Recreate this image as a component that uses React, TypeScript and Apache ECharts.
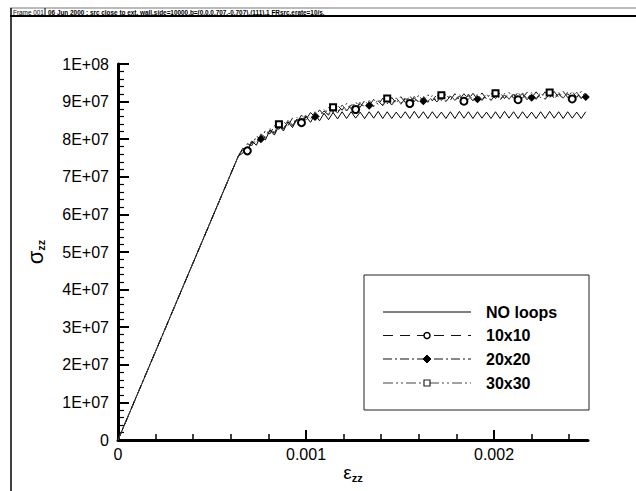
import React, { useEffect, useRef } from 'react';
import * as echarts from 'echarts';

const seriesNames = ['NO loops', '10x10', '20x20', '30x30'];

const headerFrame = 'Frame 001';
const headerText = '06 Jun 2000 : src close to ext. wall,side=10000,b=(0.0,0.707,-0.707),(111),1 FRsrc,erate=10/s,';

// strain values after the elastic knee (shared by all series)
const strain = [
  0.00064, 0.000664, 0.000688, 0.000712, 0.000736, 0.00076, 0.000784, 0.000808, 0.000832, 0.000856,
  0.00088, 0.000904, 0.000928, 0.000952, 0.000976, 0.001, 0.001024, 0.001048, 0.001072, 0.001096,
  0.00112, 0.001144, 0.001168, 0.001192, 0.001216, 0.00124, 0.001264, 0.001288, 0.001312, 0.001336,
  0.00136, 0.001384, 0.001408, 0.001432, 0.001456, 0.00148, 0.001504, 0.001528, 0.001552, 0.001576,
  0.0016, 0.001624, 0.001648, 0.001672, 0.001696, 0.00172, 0.001744, 0.001768, 0.001792, 0.001816,
  0.00184, 0.001864, 0.001888, 0.001912, 0.001936, 0.00196, 0.001984, 0.002008, 0.002032, 0.002056,
  0.00208, 0.002104, 0.002128, 0.002152, 0.002176, 0.0022, 0.002224, 0.002248, 0.002272, 0.002296,
  0.00232, 0.002344, 0.002368, 0.002392, 0.002416, 0.00244, 0.002464, 0.002488,
];

// stress values in units of 1E+06
const noLoops = [
  75.5, 77.6, 76.7, 79.5, 78.4, 81.0, 79.8, 82.4, 81.1, 83.6,
  82.2, 84.6, 83.1, 85.3, 83.9, 86.0, 84.5, 86.5, 84.9, 86.9,
  85.2, 87.1, 85.4, 87.3, 85.5, 87.3, 85.6, 87.2, 85.5, 87.3,
  85.6, 87.4, 85.5, 87.3, 85.5, 87.2, 85.6, 87.3, 85.5, 87.4,
  85.6, 87.3, 85.5, 87.3, 85.6, 87.2, 85.5, 87.3, 85.5, 87.4,
  85.6, 87.3, 85.5, 87.3, 85.6, 87.2, 85.5, 87.3, 85.5, 87.4,
  85.6, 87.3, 85.5, 87.3, 85.6, 87.2, 85.5, 87.3, 85.5, 87.4,
  85.6, 87.3, 85.5, 87.3, 85.6, 87.2, 85.5, 87.3,
];
const loops10 = [
  75.5, 77.2, 76.9, 79.2, 78.8, 81.0, 80.3, 82.4, 81.6, 83.6,
  82.7, 84.6, 83.6, 85.4, 84.4, 86.2, 85.1, 86.9, 85.8, 87.5,
  86.4, 88.1, 87.0, 88.7, 87.5, 89.1, 87.9, 89.5, 88.3, 89.9,
  88.6, 90.2, 88.9, 90.4, 89.1, 90.6, 89.3, 90.8, 89.5, 91.0,
  89.7, 91.1, 89.8, 91.2, 89.9, 91.3, 90.0, 91.4, 90.1, 91.5,
  90.1, 91.6, 90.2, 91.6, 90.3, 91.7, 90.3, 91.8, 90.4, 91.8,
  90.4, 91.9, 90.5, 91.9, 90.5, 92.0, 90.6, 92.0, 90.6, 92.0,
  90.7, 92.1, 90.7, 92.1, 90.7, 92.1, 90.8, 92.2,
];
const loops20 = [
  75.5, 76.3, 78.8, 78.3, 80.8, 80.0, 82.3, 81.4, 83.6, 82.6,
  84.7, 83.6, 85.6, 84.4, 86.4, 85.2, 87.1, 85.9, 87.8, 86.5,
  88.4, 87.1, 89.0, 87.7, 89.5, 88.1, 89.9, 88.5, 90.3, 88.9,
  90.6, 89.2, 90.9, 89.4, 91.1, 89.6, 91.3, 89.8, 91.5, 90.0,
  91.7, 90.1, 91.8, 90.2, 91.9, 90.3, 92.0, 90.4, 92.1, 90.5,
  92.1, 90.6, 92.2, 90.6, 92.3, 90.7, 92.3, 90.8, 92.4, 90.8,
  92.4, 90.9, 92.5, 90.9, 92.5, 91.0, 92.6, 91.0, 92.6, 91.0,
  92.7, 91.1, 92.7, 91.1, 92.7, 91.1, 92.7, 91.2,
];
const loops30 = [
  75.5, 77.6, 77.1, 79.7, 79.0, 81.4, 80.5, 82.8, 81.8, 84.0,
  82.9, 85.0, 83.8, 85.8, 84.6, 86.6, 85.3, 87.3, 86.0, 87.9,
  86.6, 88.5, 87.2, 89.1, 87.7, 89.5, 88.1, 89.9, 88.5, 90.3,
  88.8, 90.6, 89.1, 90.8, 89.3, 91.0, 89.5, 91.2, 89.7, 91.4,
  89.9, 91.5, 90.0, 91.6, 90.1, 91.7, 90.2, 91.8, 90.3, 91.9,
  90.3, 92.0, 90.4, 92.0, 90.5, 92.1, 90.5, 92.2, 90.6, 92.2,
  90.6, 92.3, 90.7, 92.3, 90.7, 92.4, 90.8, 92.4, 90.8, 92.4,
  90.9, 92.5, 90.9, 92.5, 90.9, 92.5, 91.0, 92.6,
];

// indices (into strain) where each loop series shows its marker
const markers10 = [2, 14, 26, 38, 50, 62, 74];
const markers20 = [5, 17, 29, 41, 53, 65, 77];
const markers30 = [9, 21, 33, 45, 57, 69];

const xMajorTicks = [0, 0.001, 0.002];
const xMinorTicks = [0.0002, 0.0004, 0.0006, 0.0008, 0.0012, 0.0014, 0.0016, 0.0018, 0.0022, 0.0024];

const FONT = '"Liberation Sans", Arial, Helvetica, sans-serif';

function buildData(vals: number[], markerIdx: number[] | null, symbol: string) {
  const out: any[] = [{ value: [0, 0], symbol: 'none' }];
  strain.forEach((x, i) => {
    const isMarker = markerIdx ? markerIdx.includes(i) : false;
    out.push({ value: [x, vals[i] * 1e6], symbol: isMarker ? symbol : 'none' });
  });
  return out;
}

function yLabel(v: number) {
  if (v === 0) return '0';
  const exp = Math.floor(Math.log10(v) + 1e-9);
  const m = Math.round(v / Math.pow(10, exp));
  return `${m}E+${String(exp).padStart(2, '0')}`;
}

export default function App() {
  const ref = useRef<HTMLDivElement>(null);

  useEffect(() => {
    if (!ref.current) return;
    const chart = echarts.init(ref.current, null, { renderer: 'svg' });

    const legendTop = 275;
    const legendLeft = 364;
    const rowY = [312, 335.5, 359, 383];
    const lx1 = 383;
    const lx2 = 471;
    const mx = 427;
    const dashes: (number[] | null)[] = [null, [10, 7], [9, 3, 2, 3], [10, 3, 2, 3, 2, 3]];
    const lineColors = ['#000', '#111', '#111', '#444'];

    const legendEls: any[] = [
      {
        type: 'rect',
        shape: { x: legendLeft, y: legendTop, width: 225, height: 135 },
        style: { fill: '#fff', stroke: '#222', lineWidth: 1 },
        z: 10,
      },
    ];
    seriesNames.forEach((name, i) => {
      legendEls.push({
        type: 'line',
        shape: { x1: lx1, y1: rowY[i], x2: lx2, y2: rowY[i] },
        style: { stroke: lineColors[i], lineWidth: 1, lineDash: dashes[i] || undefined },
        z: 11,
      });
      legendEls.push({
        type: 'text',
        x: 486,
        y: rowY[i],
        style: {
          text: name,
          fontFamily: FONT,
          fontSize: 16,
          fontWeight: 'bold',
          fill: '#000',
          verticalAlign: 'middle',
          align: 'left',
        },
        z: 11,
      });
    });
    legendEls.push({
      type: 'circle',
      shape: { cx: mx, cy: rowY[1], r: 3 },
      style: { fill: '#fff', stroke: '#000', lineWidth: 1.5 },
      z: 12,
    });
    legendEls.push({
      type: 'polygon',
      shape: { points: [[mx, rowY[2] - 4], [mx + 4, rowY[2]], [mx, rowY[2] + 4], [mx - 4, rowY[2]]] },
      style: { fill: '#000', stroke: '#000', lineWidth: 1 },
      z: 12,
    });
    legendEls.push({
      type: 'rect',
      shape: { x: mx - 3, y: rowY[3] - 3, width: 6, height: 6 },
      style: { fill: '#fff', stroke: '#222', lineWidth: 1.2 },
      z: 12,
    });

    const headerEls: any[] = [
      { type: 'line', shape: { x1: 10, y1: 8, x2: 636, y2: 8 }, style: { stroke: '#777', lineWidth: 1 } },
      { type: 'line', shape: { x1: 10, y1: 16, x2: 636, y2: 16 }, style: { stroke: '#000', lineWidth: 2 } },
      { type: 'line', shape: { x1: 11, y1: 8, x2: 11, y2: 491 }, style: { stroke: '#000', lineWidth: 1.5 } },
      { type: 'line', shape: { x1: 45, y1: 8, x2: 45, y2: 16 }, style: { stroke: '#000', lineWidth: 1 } },
      {
        type: 'text', x: 13, y: 12,
        style: { text: headerFrame, fontFamily: FONT, fontSize: 6.4, fontWeight: 'normal', fill: '#000', verticalAlign: 'middle' },
      },
      {
        type: 'text', x: 48, y: 12,
        style: { text: headerText, fontFamily: FONT, fontSize: 6.4, fontWeight: 'bold', fill: '#000', verticalAlign: 'middle' },
      },
    ];

    const lineSeries = (name: string, vals: number[], markers: number[] | null, symbol: string, dash: any, color: string, size: number) => ({
      name,
      type: 'line',
      data: buildData(vals, markers, symbol),
      xAxisIndex: 0,
      yAxisIndex: 0,
      symbolSize: size,
      showAllSymbol: true,
      lineStyle: { color, width: 1, type: dash || 'solid' },
      itemStyle: { color: '#000', borderWidth: 1.5 },
      emphasis: { disabled: true },
      clip: true,
    });

    chart.setOption({
      animation: false,
      backgroundColor: '#fff',
      grid: { left: 118, right: 48, top: 64, bottom: 51 },
      xAxis: [
        {
          type: 'value',
          min: 0,
          max: 0.0025,
          position: 'bottom',
          name: '{e|ε}{s|zz}',
          nameLocation: 'middle',
          nameGap: 22,
          nameMoveOverlap: false,
          nameTextStyle: {
            rich: {
              e: { fontFamily: FONT, fontSize: 19, color: '#000' },
              s: { fontFamily: FONT, fontSize: 11, fontWeight: 'bold', color: '#000', verticalAlign: 'bottom', padding: [10, 0, 0, 0] },
            },
          },
          axisLine: { show: true, onZero: false, lineStyle: { color: '#000', width: 3 } },
          axisTick: { show: true, inside: true, length: 10, customValues: xMajorTicks, lineStyle: { color: '#000', width: 2 } },
          axisLabel: {
            customValues: xMajorTicks,
            formatter: (v: number) => (v === 0 ? '0' : String(v)),
            fontFamily: FONT, fontSize: 16, color: '#000', margin: 6,
          },
          splitLine: { show: false },
        },
        {
          type: 'value',
          min: 0,
          max: 0.0025,
          position: 'bottom',
          offset: 0,
          axisLine: { show: false },
          axisTick: { show: true, inside: true, length: 6, customValues: xMinorTicks, lineStyle: { color: '#000', width: 1.5 } },
          axisLabel: { show: false },
          splitLine: { show: false },
        },
      ],
      yAxis: {
        type: 'value',
        min: 0,
        max: 1e8,
        interval: 1e7,
        name: '{g|σ}{s|zz}',
        nameLocation: 'middle',
        nameRotate: 90,
        nameGap: 72,
        nameTextStyle: {
          rich: {
            g: { fontFamily: FONT, fontSize: 22, color: '#000' },
            s: { fontFamily: FONT, fontSize: 11, fontWeight: 'bold', color: '#000', verticalAlign: 'bottom', padding: [10, 0, 0, 0] },
          },
        },
        axisLine: { show: true, onZero: false, lineStyle: { color: '#000', width: 3 } },
        axisTick: { show: true, inside: true, length: 11, lineStyle: { color: '#000', width: 2 } },
        minorTick: { show: true, splitNumber: 5, length: 6, lineStyle: { color: '#000', width: 1.2 } },
        axisLabel: { formatter: yLabel, fontFamily: FONT, fontSize: 16, color: '#000', margin: 9 },
        splitLine: { show: false },
        minorSplitLine: { show: false },
      },
      graphic: [...headerEls, ...legendEls],
      series: [
        lineSeries(seriesNames[0], noLoops, null, 'none', null, '#000', 0),
        lineSeries(seriesNames[1], loops10, markers10, 'emptyCircle', [10, 7], '#111', 7),
        lineSeries(seriesNames[2], loops20, markers20, 'diamond', [9, 3, 2, 3], '#111', 8),
        lineSeries(seriesNames[3], loops30, markers30, 'emptyRect', [10, 3, 2, 3, 2, 3], '#444', 6),
      ],
    });

    return () => chart.dispose();
  }, []);

  return <div ref={ref} style={{ position: 'fixed', left: 0, top: 0, width: 636, height: 491 }} />;
}
